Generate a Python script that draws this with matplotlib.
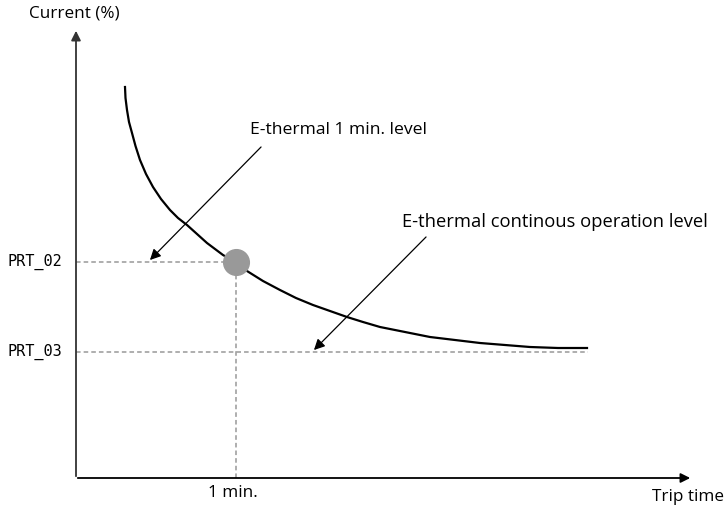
import matplotlib.pyplot as plt

# Curve (arbitrary units: time to the right, current up)
trip_time = [49, 49.5, 51, 53, 56, 59.5, 64, 70, 77, 85, 94, 102, 111, 121, 131, 139, 147,
             154, 160, 165, 171, 187, 204, 220, 237, 254, 271, 287, 304, 329, 354, 379,
             404, 429, 454, 482, 511]
current = [391, 380, 368, 356, 345, 332, 318, 304, 291, 279, 268, 260, 253, 244, 235, 229, 223,
           219, 215, 211, 207, 197, 188, 180, 173, 167, 161, 156, 151, 146, 141, 138,
           135, 133, 131, 130, 130]

prt_labels = ["PRT_02", "PRT_03"]
prt_levels = [216, 126]
one_min = 160
cont_end = 512

fig = plt.figure(figsize=(7.27, 5.09), dpi=100)
ax = fig.add_axes([0, 0, 1, 1])
ax.set_xlim(-76, 651)
ax.set_ylim(-31, 478)
ax.axis("off")

font = "Open Sans"
fs = 12.3
gray = "#999999"

# axes with arrow heads
ax.annotate("", xy=(0, 450), xytext=(0, -1),
            arrowprops=dict(arrowstyle="-|>", color="#333333", lw=1.3, mutation_scale=14))
ax.annotate("", xy=(617, 0), xytext=(-1, 0),
            arrowprops=dict(arrowstyle="-|>", color="black", lw=1.3, mutation_scale=14))

# guide lines
ax.plot([0, one_min], [prt_levels[0]] * 2, color=gray, lw=1.1, dashes=(3, 2))
ax.plot([one_min, one_min], [0, prt_levels[0]], color=gray, lw=1.1, dashes=(3, 2))
ax.plot([0, cont_end], [prt_levels[1]] * 2, color=gray, lw=1.1, dashes=(3, 2))

# trip curve and the 1 min. point
ax.plot(trip_time, current, color="black", lw=1.6, solid_joinstyle="round")
ax.plot(one_min, prt_levels[0], "o", color=gray, markersize=18.5, zorder=5)

# labels
ax.text(-2, 465, "Current (%)", ha="center", va="center", fontsize=fs, family=font)
ax.text(576, -19, "Trip time", ha="left", va="center", fontsize=fs, family=font)
ax.text(one_min - 3, -15, "1 min.", ha="center", va="center", fontsize=fs, family=font)
for lab, lev in zip(prt_labels, prt_levels):
    ax.text(-14, lev, lab, ha="right", va="center", fontsize=11, family="DejaVu Sans Mono")

# annotations
ax.annotate("", xy=(72, prt_levels[0]), xytext=(187, 333),
            arrowprops=dict(arrowstyle="-|>", color="black", lw=0.9, mutation_scale=16))
ax.text(174, 348, "E-thermal 1 min. level", ha="left", va="center", fontsize=12.6, family=font)
ax.annotate("", xy=(236, prt_levels[1]), xytext=(352, 243),
            arrowprops=dict(arrowstyle="-|>", color="black", lw=0.9, mutation_scale=16))
ax.text(326, 256, "E-thermal continous operation level", ha="left", va="center",
        fontsize=13.2, family=font)

fig.savefig("out.png", dpi=100)
